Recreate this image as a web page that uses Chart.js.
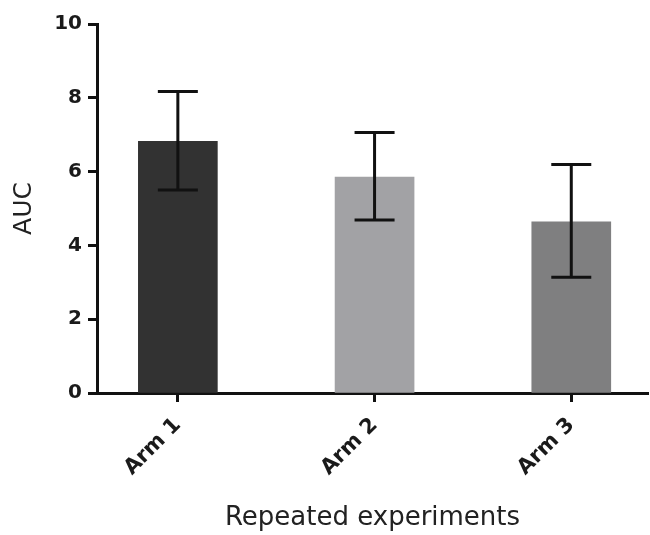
<!DOCTYPE html>
<html>
<head>
	<meta charset="utf-8">
	<title>AUC</title>
	<script src="https://cdn.jsdelivr.net/npm/chart.js@4"></script>
	<style>
		body { margin: 0; background: #fff; }
		#wrap { width: 650px; height: 535px; position: relative; }
	</style>
</head>
<body>
<div id="wrap">
	<canvas id="myChart"></canvas>
</div>
<script type="text/javascript">
	// groups and their means, with the error bar ends
	var arms = ["Arm 1", "Arm 2", "Arm 3"];
	var auc = [6.82, 5.85, 4.64];
	var errLow = [5.5, 4.69, 3.14];
	var errHigh = [8.17, 7.06, 6.19];
	var yTicks = [0, 2, 4, 6, 8, 10];
	var barColors = ["#323232", "#a2a2a5", "#7f7f80"];

	// whiskers with caps on top of each bar
	var errorBars = {
		id: 'errorBars',
		afterDatasetsDraw: function(chart) {
			var ctx = chart.ctx;
			var x = chart.scales.x, y = chart.scales.y;
			ctx.save();
			ctx.strokeStyle = "#111";
			ctx.lineWidth = 3;
			for (var i = 0; i < arms.length; i++) {
				var cx = x.getPixelForValue(i);
				var top = y.getPixelForValue(errHigh[i]);
				var bot = y.getPixelForValue(errLow[i]);
				ctx.beginPath();
				ctx.moveTo(cx, top); ctx.lineTo(cx, bot);
				ctx.moveTo(cx - 20, top); ctx.lineTo(cx + 20, top);
				ctx.moveTo(cx - 20, bot); ctx.lineTo(cx + 20, bot);
				ctx.stroke();
			}
			ctx.restore();
		}
	};

	var points = auc.map(function(v, i) { return {x: i, y: v}; });

	var ctx = document.getElementById('myChart').getContext('2d');
	var chart = new Chart(ctx, {
		type: 'bar',
		data: {
			datasets: [{
				data: points,
				backgroundColor: barColors,
				borderWidth: 0,
				barThickness: 79
			}]
		},
		options: {
			responsive: true,
			maintainAspectRatio: false,
			animation: false,
			layout: { padding: { top: 24, right: 2, bottom: 0, left: 0 } },
			plugins: { legend: { display: false }, tooltip: { enabled: false } },
			scales: {
				x: {
					type: 'linear',
					offset: false,
					min: -0.411,
					max: 2.39,
					afterBuildTicks: function(scale) {
						scale.ticks = arms.map(function(a, i) { return {value: i}; });
					},
					afterFit: function(scale) { scale.height = 142; },
					grid: { display: true, offset: false, drawOnChartArea: false, drawTicks: true, tickLength: 9, tickWidth: 3, tickColor: "#111" },
					border: { display: true, width: 3, color: "#111" },
					ticks: {
						autoSkip: false,
						minRotation: 45,
						maxRotation: 45,
						padding: 11,
						color: "#1a1a1a",
						font: { family: "DejaVu Sans", size: 21, weight: "bold" },
						callback: function(v) { return arms[v]; }
					},
					title: {
						display: true,
						text: "Repeated experiments",
						color: "#222",
						padding: { top: 4, bottom: 1 },
						font: { family: "DejaVu Sans", size: 26 }
					}
				},
				y: {
					min: 0,
					max: 10,
					afterBuildTicks: function(scale) {
						scale.ticks = yTicks.map(function(v) { return {value: v}; });
					},
					afterFit: function(scale) { scale.width = 97; },
					grid: { display: true, drawOnChartArea: false, drawTicks: true, tickLength: 9, tickWidth: 3, tickColor: "#111" },
					border: { display: true, width: 3, color: "#111" },
					ticks: {
						padding: 6,
						color: "#1a1a1a",
						font: { family: "DejaVu Sans", size: 20, weight: "bold" }
					},
					title: {
						display: true,
						text: "AUC",
						color: "#222",
						padding: { top: 9, bottom: 0 },
						font: { family: "DejaVu Sans", size: 25 }
					}
				}
			}
		},
		plugins: [errorBars]
	});
</script>
</body>
</html>
